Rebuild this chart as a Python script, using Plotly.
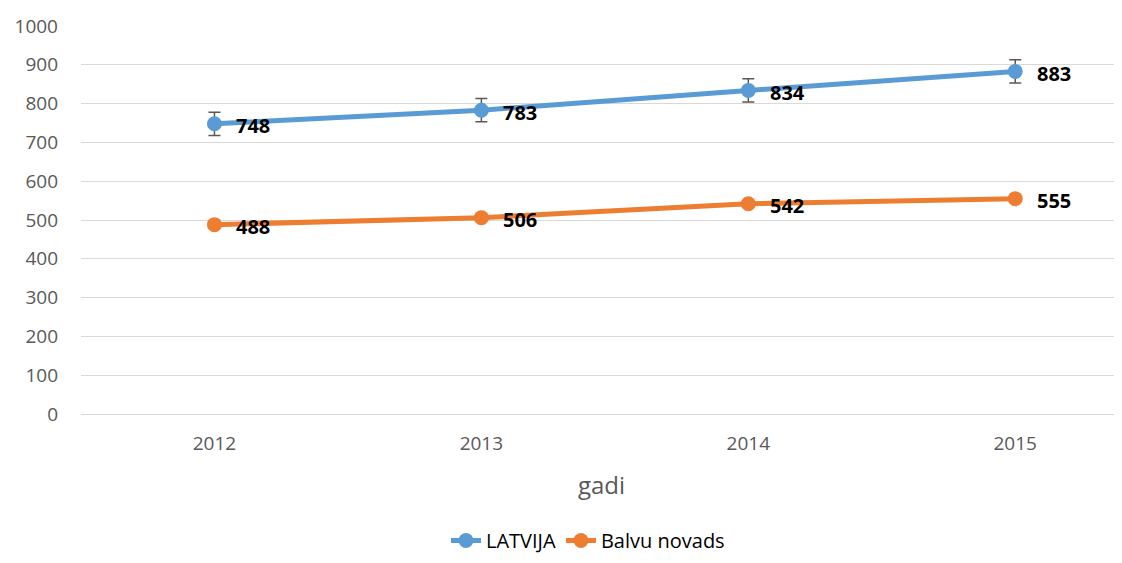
import plotly.graph_objects as go

years = ["2012", "2013", "2014", "2015"]
latvija = [748, 783, 834, 883]
balvu = [488, 506, 542, 555]
latvija_err = [30, 30, 30, 30]
balvu_err = [6, 6, 6, 6]

blue = "#5B9BD5"
orange = "#ED7D31"
font_family = "Open Sans, Liberation Sans, sans-serif"

fig = go.Figure()
fig.add_trace(go.Scatter(
    x=years, y=latvija, name="LATVIJA", mode="lines+markers",
    line=dict(color=blue, width=5),
    marker=dict(size=15, color=blue),
    error_y=dict(type="data", array=latvija_err, visible=True, color="#595959", thickness=1.5, width=6),
))
fig.add_trace(go.Scatter(
    x=years, y=balvu, name="Balvu novads", mode="lines+markers",
    line=dict(color=orange, width=5),
    marker=dict(size=15, color=orange),
    error_y=dict(type="data", array=balvu_err, visible=True, color="#595959", thickness=1.5, width=6),
))

annotations = []
for series in (latvija, balvu):
    for i, v in enumerate(series):
        annotations.append(dict(
            x=i, y=v, xref="x", yref="y", text=f"<b>{v}</b>", showarrow=False,
            xanchor="left", yanchor="middle", xshift=20, yshift=-2,
            font=dict(family=font_family, size=20, color="black"),
        ))

fig.update_layout(
    width=1114, height=547,
    margin=dict(l=73, r=0, t=18, b=141, autoexpand=False),
    paper_bgcolor="white", plot_bgcolor="white",
    font=dict(family=font_family, color="#595959"),
    annotations=annotations,
    showlegend=True,
    legend=dict(orientation="h", x=0.487, xanchor="center", y=-0.326, yanchor="middle",
                font=dict(size=20, color="black"), tracegroupgap=0, itemwidth=30),
    xaxis=dict(
        type="category", range=[-0.5, 3.4], automargin=False,
        showgrid=False, showline=True, linecolor="#D9D9D9", linewidth=1,
        ticks="", tickfont=dict(size=19, color="#595959"),
        ticklabelstandoff=12,
        title=dict(text="gadi", font=dict(size=24, color="#595959"), standoff=22),
    ),
    yaxis=dict(
        range=[0, 1000], dtick=100, automargin=False,
        showgrid=True, gridcolor="#D9D9D9", gridwidth=1,
        zeroline=False, showline=False, ticks="",
        tickfont=dict(size=19, color="#595959"),
        ticklabelstandoff=22,
    ),
)

fig.write_html("out.html")
